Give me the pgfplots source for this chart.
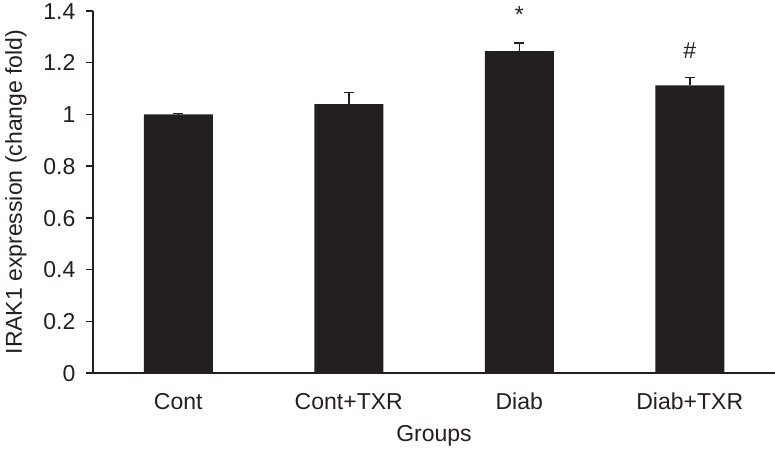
\documentclass[border=0pt]{standalone}
\usepackage{pgfplots}
\pgfplotsset{compat=1.18}
\usepackage{fontspec}
\setmainfont{Liberation Sans}
\definecolor{barc}{HTML}{231F20}
\begin{document}
\fontsize{23bp}{27bp}\selectfont
\begin{tikzpicture}
\begin{axis}[
  scale only axis, width=682bp, height=362bp,
  xmin=-0.5, xmax=3.5, ymin=0, ymax=1.4,
  axis x line*=bottom, axis y line*=left,
  axis line style={-, line width=1.5bp, color=barc},
  xtick={0,1,2,3},
  xticklabels={Cont, Cont+TXR, Diab, Diab+TXR},
  x tick style={draw=none},
  ytick={0,0.2,0.4,0.6,0.8,1,1.2,1.4},
  yticklabel style={/pgf/number format/fixed, /pgf/number format/precision=1},
  y tick style={line width=1.5bp, color=barc},
  tick align=outside, major tick length=6.5bp,
  /pgf/number format/assume math mode=true,
  ticklabel style={font=\fontsize{23bp}{27bp}\selectfont, text=barc},
  yticklabel style={anchor=base east, inner sep=0pt, xshift=-11bp, yshift=-8.2bp},
  xticklabel style={anchor=base, inner sep=0pt, yshift=-29.5bp},
  every axis x label/.style={at={(axis description cs:0.5,0)}, yshift=-68.5bp, anchor=base, inner sep=0pt, font=\fontsize{23bp}{27bp}\selectfont, text=barc},
  every axis y label/.style={at={(axis description cs:0,0.5)}, xshift=-71bp, rotate=90, anchor=base, inner sep=0pt, font=\fontsize{23bp}{27bp}\selectfont, text=barc},
  xlabel={Groups},
  ylabel={IRAK1 expression (change fold)},
  clip=false,
]
\addplot[ybar, bar width=69bp, fill=barc, draw=none,
  error bars/.cd, y dir=plus, y explicit,
  error bar style={line width=1.5bp, color=barc},
  error mark options={rotate=90, mark size=5bp, line width=1.5bp, color=barc}]
  coordinates {(0,1.0) +- (0,0.003) (1,1.04) +- (0,0.044) (2,1.245) +- (0,0.032) (3,1.112) +- (0,0.03)};
\node[text=barc, font=\fontsize{23bp}{27bp}\selectfont] at (axis cs:2,1.385) {*};
\node[text=barc, font=\fontsize{23bp}{27bp}\selectfont] at (axis cs:3,1.245) {\#};
\coordinate (ll) at (rel axis cs:0,0);
\coordinate (ur) at (rel axis cs:1,1);
\end{axis}
\pgfresetboundingbox
\path ([shift={(-93bp,-76bp)}]ll) rectangle ([shift={(0bp,11bp)}]ur);
\end{tikzpicture}
\end{document}
